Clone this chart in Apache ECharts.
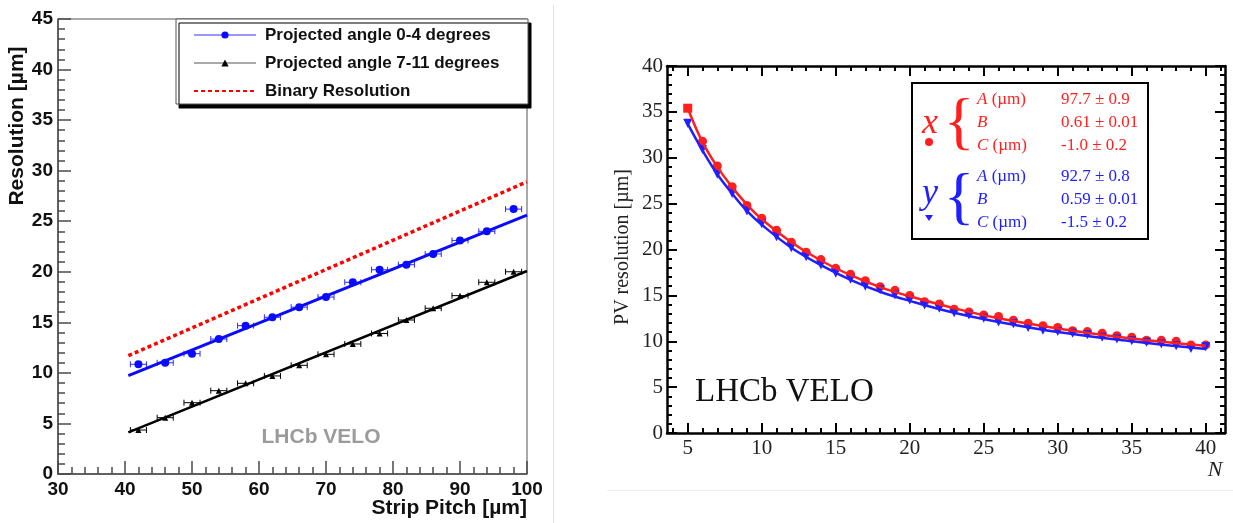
<!DOCTYPE html>
<html>
<head>
<meta charset="utf-8">
<script src="https://cdn.jsdelivr.net/npm/echarts@6.0.0/dist/echarts.min.js"></script>
<style>
	html, body { margin: 0; padding: 0; background: #fff; }
	#chart { width: 1233px; height: 523px; }
</style>
</head>
<body>
<div id="chart"></div>
<script>
	// left panel: resolution vs strip pitch
	var pitch = [42, 46, 50, 54, 58, 62, 66, 70, 74, 78, 82, 86, 90, 94, 98];
	var blueRes = [10.85, 11.0, 11.9, 13.35, 14.67, 15.5, 16.5, 17.5, 18.96, 20.2, 20.7, 21.76, 23.1, 24.0, 26.2];
	var blackRes = [4.35, 5.57, 7.05, 8.24, 8.97, 9.7, 10.75, 11.84, 12.86, 13.9, 15.23, 16.39, 17.64, 18.96, 20.0];
	var pitchErr = 1.2;
	var fitPitch = [40.5, 100];
	var blueFit = [9.72, 25.6];
	var blackFit = [4.12, 20.08];
	var binaryRes = [11.7, 28.9];

	// right panel: PV resolution vs N
	var nVals = [5, 6, 7, 8, 9, 10, 11, 12, 13, 14, 15, 16, 17, 18, 19, 20, 21, 22, 23, 24, 25, 26, 27, 28, 29, 30, 31, 32, 33, 34, 35, 36, 37, 38, 39, 40];
	var xRes = [35.4, 31.8, 29.1, 26.85, 24.8, 23.4, 22.1, 20.8, 19.7, 18.9, 17.95, 17.3, 16.6, 15.95, 15.55, 15.0, 14.3, 14.06, 13.5, 13.2, 12.86, 12.7, 12.3, 11.95, 11.7, 11.5, 11.15, 11.05, 10.87, 10.6, 10.43, 10.1, 10.1, 10.0, 9.6, 9.6];
	var yRes = [33.75, 30.9, 28.2, 26.1, 24.2, 22.8, 21.4, 20.2, 19.2, 18.3, 17.4, 16.75, 16.0, 15.6, 15.04, 14.5, 13.95, 13.6, 13.1, 12.86, 12.5, 12.1, 11.9, 11.5, 11.2, 11.05, 10.87, 10.7, 10.43, 10.25, 10.06, 9.9, 9.7, 9.5, 9.2, 9.4];
	var fitN = [5, 6, 7, 8, 9, 10, 12, 14, 16, 18, 20, 23, 26, 30, 35, 40];
	var xFit = [35.4, 31.7, 29.0, 26.8, 24.9, 23.3, 20.8, 18.8, 17.2, 15.9, 14.9, 13.6, 12.5, 11.4, 10.3, 9.5];
	var yFit = [33.7, 30.8, 28.2, 26.1, 24.2, 22.7, 20.2, 18.3, 16.7, 15.4, 14.4, 13.1, 12.1, 11.0, 10.0, 9.15];
	var majorN = [5, 10, 15, 20, 25, 30, 35, 40];
	var minorN = [4, 5, 6, 7, 8, 9, 10, 11, 12, 13, 14, 15, 16, 17, 18, 19, 20, 21, 22, 23, 24, 25, 26, 27, 28, 29, 30, 31, 32, 33, 34, 35, 36, 37, 38, 39, 40, 41];
	var fitX = ['A (\u00b5m)', 'B', 'C (\u00b5m)'];
	var fitXVal = ['97.7 \u00b1 0.9', '0.61 \u00b1 0.01', '-1.0 \u00b1 0.2'];
	var fitYVal = ['92.7 \u00b1 0.8', '0.59 \u00b1 0.01', '-1.5 \u00b1 0.2'];

	var SANS = 'Liberation Sans, Arial, sans-serif';
	var SERIF = 'Liberation Serif, Times New Roman, serif';
	var RED = '#ff1f1f';
	var BLUE = '#2020ff';

	function pairs(xs, ys) {
		return xs.map(function (x, i) { return [x, ys[i]]; });
	}

	function errBars(color) {
		return function (params, api) {
			var x = api.value(0), y = api.value(1);
			var a = api.coord([x - pitchErr, y]);
			var b = api.coord([x + pitchErr, y]);
			var st = { stroke: color, lineWidth: 1 };
			return {
				type: 'group',
				children: [
					{ type: 'line', shape: { x1: a[0], y1: a[1], x2: b[0], y2: b[1] }, style: st },
					{ type: 'line', shape: { x1: a[0], y1: a[1] - 3, x2: a[0], y2: a[1] + 3 }, style: st },
					{ type: 'line', shape: { x1: b[0], y1: b[1] - 3, x2: b[0], y2: b[1] + 3 }, style: st }
				]
			};
		};
	}

	var leftAxisStyle = { color: '#4a4a4a', width: 1.5 };

	function legendRows(vals, color, y0) {
		var out = [];
		for (var i = 0; i < 3; i++) {
			var lab = fitX[i].split(' ');
			out.push({
				type: 'text', x: 977, y: y0 + i * 23,
				style: {
					text: '{i|' + lab[0] + '}' + (lab[1] ? ' ' + lab[1] : ''),
					rich: { i: { fontStyle: 'italic', fontFamily: SERIF, fontSize: 17, fill: color } },
					font: '17px ' + SERIF, fill: color, verticalAlign: 'middle', align: 'left'
				}
			});
			out.push({
				type: 'text', x: 1061, y: y0 + i * 23,
				style: { text: vals[i], font: '17px ' + SERIF, fill: color, verticalAlign: 'middle', align: 'left' }
			});
		}
		return out;
	}

	var boxItems = [
		{ type: 'text', x: 930, y: 124, style: { text: 'x', font: 'italic 36px ' + SERIF, fill: RED, align: 'center', verticalAlign: 'middle' } },
		{ type: 'circle', shape: { cx: 929, cy: 142, r: 4 }, style: { fill: RED } },
		{ type: 'text', x: 959, y: 125, style: { text: '{', font: '64px ' + SERIF, fill: RED, align: 'center', verticalAlign: 'middle' } },
		{ type: 'text', x: 930, y: 194, style: { text: 'y', font: 'italic 36px ' + SERIF, fill: BLUE, align: 'center', verticalAlign: 'middle' } },
		{ type: 'polygon', shape: { points: [[925, 215], [933, 215], [929, 221]] }, style: { fill: BLUE } },
		{ type: 'text', x: 959, y: 200, style: { text: '{', font: '64px ' + SERIF, fill: BLUE, align: 'center', verticalAlign: 'middle' } }
	].concat(legendRows(fitXVal, RED, 100)).concat(legendRows(fitYVal, BLUE, 177));
	boxItems.forEach(function (el) { el.z = 10; });

	var chart = echarts.init(document.getElementById('chart'));

	var option = {
		backgroundColor: '#fff',
		animation: false,
		grid: [{
				left: 58, top: 19, width: 469, height: 455,
				show: true, borderColor: '#555', borderWidth: 1
			},
			{
				left: 667, top: 66, width: 558, height: 367
			}
		],
		legend: {
			z: 10,
			orient: 'vertical',
			left: 188,
			top: 20,
			itemWidth: 62,
			itemHeight: 9,
			itemGap: 8,
			textStyle: {
				fontFamily: SANS, fontWeight: 'bold', fontSize: 17, color: '#111',
				lineHeight: 20, padding: [0, 0, 0, 4]
			},
			data: [{
					name: 'Projected angle 0-4 degrees',
					lineStyle: { opacity: 1, width: 1.2, color: '#3030ff' }
				},
				{
					name: 'Projected angle 7-11 degrees',
					lineStyle: { opacity: 1, width: 1.2, color: '#555' }
				},
				{
					name: 'Binary Resolution',
					itemStyle: { opacity: 0 }
				}
			]
		},
		xAxis: [{
				gridIndex: 0, type: 'value', min: 30, max: 100, interval: 10,
				axisLine: { lineStyle: leftAxisStyle },
				axisTick: { inside: true, length: 13, lineStyle: leftAxisStyle },
				minorTick: { show: true, splitNumber: 5, length: 7, lineStyle: leftAxisStyle },
				axisLabel: { fontFamily: SANS, fontWeight: 'bold', fontSize: 19, color: '#111', margin: 6 },
				splitLine: { show: false }
			},
			{
				gridIndex: 1, type: 'value', position: 'bottom', min: 3.6, max: 41.3,
				axisLine: { lineStyle: { color: '#000', width: 2.5 } },
				axisTick: { inside: true, length: 10, customValues: majorN, lineStyle: { color: '#000', width: 2 } },
				axisLabel: { customValues: majorN, fontFamily: SERIF, fontSize: 21, color: '#222', margin: 5 },
				splitLine: { show: false }
			},
			{
				gridIndex: 1, type: 'value', position: 'bottom', min: 3.6, max: 41.3,
				axisLine: { show: false },
				axisTick: { inside: true, length: 5, customValues: minorN, lineStyle: { color: '#000', width: 2 } },
				axisLabel: { show: false },
				splitLine: { show: false }
			},
			{
				gridIndex: 1, type: 'value', position: 'top', min: 3.6, max: 41.3,
				axisLine: { lineStyle: { color: '#000', width: 2.5 } },
				axisTick: { inside: true, length: 10, customValues: majorN, lineStyle: { color: '#000', width: 2 } },
				axisLabel: { show: false },
				splitLine: { show: false }
			},
			{
				gridIndex: 1, type: 'value', position: 'top', min: 3.6, max: 41.3,
				axisLine: { show: false },
				axisTick: { inside: true, length: 5, customValues: minorN, lineStyle: { color: '#000', width: 2 } },
				axisLabel: { show: false },
				splitLine: { show: false }
			}
		],
		yAxis: [{
				gridIndex: 0, type: 'value', min: 0, max: 45, interval: 5,
				axisLine: { lineStyle: leftAxisStyle },
				axisTick: { inside: true, length: 13, lineStyle: leftAxisStyle },
				minorTick: { show: true, splitNumber: 5, length: 7, lineStyle: leftAxisStyle },
				axisLabel: { fontFamily: SANS, fontWeight: 'bold', fontSize: 19, color: '#111', margin: 5 },
				splitLine: { show: false }
			},
			{
				gridIndex: 1, type: 'value', position: 'left', min: 0, max: 40, interval: 5,
				axisLine: { lineStyle: { color: '#000', width: 2.5 } },
				axisTick: { inside: true, length: 10, lineStyle: { color: '#000', width: 2 } },
				minorTick: { show: true, splitNumber: 5, length: 5, lineStyle: { color: '#000', width: 2 } },
				axisLabel: { fontFamily: SERIF, fontSize: 21, color: '#222', margin: 4 },
				splitLine: { show: false }
			},
			{
				gridIndex: 1, type: 'value', position: 'right', min: 0, max: 40, interval: 5,
				axisLine: { lineStyle: { color: '#000', width: 2.5 } },
				axisTick: { inside: true, length: 10, lineStyle: { color: '#000', width: 2 } },
				minorTick: { show: true, splitNumber: 5, length: 5, lineStyle: { color: '#000', width: 2 } },
				axisLabel: { show: false },
				splitLine: { show: false }
			}
		],
		series: [
			// left panel
			{
				name: 'Binary Resolution', type: 'line', xAxisIndex: 0, yAxisIndex: 0,
				data: pairs(fitPitch, binaryRes), symbol: 'none',
				lineStyle: { color: '#ff0000', width: 3.5, type: [4, 3] }, itemStyle: { color: '#ff0000' }
			},
			{
				name: 'blue fit', type: 'line', xAxisIndex: 0, yAxisIndex: 0,
				data: pairs(fitPitch, blueFit), symbol: 'none',
				lineStyle: { color: '#0a0aff', width: 3 }
			},
			{
				name: 'black fit', type: 'line', xAxisIndex: 0, yAxisIndex: 0,
				data: pairs(fitPitch, blackFit), symbol: 'none',
				lineStyle: { color: '#000', width: 2.5 }
			},
			{
				name: 'blue err', type: 'custom', xAxisIndex: 0, yAxisIndex: 0,
				data: pairs(pitch, blueRes), renderItem: errBars('#2a2aff')
			},
			{
				name: 'black err', type: 'custom', xAxisIndex: 0, yAxisIndex: 0,
				data: pairs(pitch, blackRes), renderItem: errBars('#000')
			},
			{
				name: 'Projected angle 0-4 degrees', type: 'line', xAxisIndex: 0, yAxisIndex: 0,
				data: pairs(pitch, blueRes), symbol: 'circle', symbolSize: 8,
				itemStyle: { color: '#0a0aff' }, lineStyle: { opacity: 0, color: '#0a0aff' }
			},
			{
				name: 'Projected angle 7-11 degrees', type: 'line', xAxisIndex: 0, yAxisIndex: 0,
				data: pairs(pitch, blackRes), symbol: 'triangle', symbolSize: 6,
				itemStyle: { color: '#000' }, lineStyle: { opacity: 0, color: '#000' }
			},
			// right panel
			{
				name: 'y fit', type: 'line', xAxisIndex: 1, yAxisIndex: 1,
				data: pairs(fitN, yFit), symbol: 'none', smooth: 0.4,
				lineStyle: { color: BLUE, width: 2.5 }
			},
			{
				name: 'x fit', type: 'line', xAxisIndex: 1, yAxisIndex: 1,
				data: pairs(fitN, xFit), symbol: 'none', smooth: 0.4,
				lineStyle: { color: RED, width: 2.5 }
			},
			{
				name: 'x', type: 'scatter', xAxisIndex: 1, yAxisIndex: 1,
				data: nVals.map(function (n, i) {
					return i === 0 ? { value: [n, xRes[i]], symbol: 'rect' } : [n, xRes[i]];
				}),
				symbol: 'circle', symbolSize: 9, itemStyle: { color: RED, opacity: 1 }
			},
			{
				name: 'y', type: 'scatter', xAxisIndex: 1, yAxisIndex: 1,
				data: pairs(nVals, yRes), symbol: 'triangle', symbolRotate: 180, symbolSize: 9,
				itemStyle: { color: BLUE, opacity: 1 }
			}
		],
		graphic: [
			// page separators
			{ type: 'line', shape: { x1: 553.5, y1: 5, x2: 553.5, y2: 523 }, style: { stroke: '#e2e2e2', lineWidth: 1 } },
			{ type: 'line', shape: { x1: 607, y1: 490.5, x2: 1233, y2: 490.5 }, style: { stroke: '#ececec', lineWidth: 1 } },
			// left legend box
			{
				type: 'rect', z: 5,
				shape: { x: 176, y: 19, width: 352, height: 85 },
				style: { fill: '#fff', stroke: '#555', lineWidth: 1, shadowColor: '#000', shadowOffsetX: 3, shadowOffsetY: 4, shadowBlur: 0 }
			},
			// left axis titles
			{
				type: 'text', x: 17, y: 126, rotation: Math.PI / 2,
				style: { text: 'Resolution [\u00b5m]', font: 'bold 21px ' + SANS, fill: '#111', align: 'center', verticalAlign: 'middle' }
			},
			{
				type: 'text', x: 527, y: 508,
				style: { text: 'Strip Pitch [\u00b5m]', font: 'bold 21px ' + SANS, fill: '#111', align: 'right', verticalAlign: 'middle' }
			},
			{
				type: 'text', x: 321, y: 437,
				style: { text: 'LHCb VELO', font: 'bold 21px ' + SANS, fill: '#9b9b9b', align: 'center', verticalAlign: 'middle' }
			},
			// right axis titles
			{
				type: 'text', x: 623, y: 247, rotation: Math.PI / 2,
				style: { text: 'PV resolution [\u00b5m]', font: '20px ' + SERIF, fill: '#222', align: 'center', verticalAlign: 'middle' }
			},
			{
				type: 'text', x: 1215, y: 470,
				style: { text: 'N', font: 'italic 22px ' + SERIF, fill: '#222', align: 'center', verticalAlign: 'middle' }
			},
			{
				type: 'text', x: 695, y: 392,
				style: { text: 'LHCb VELO', font: '33px ' + SERIF, fill: '#111', align: 'left', verticalAlign: 'middle' }
			},
			// right fit-parameter box
			{
				type: 'rect', z: 5,
				shape: { x: 912, y: 83, width: 236, height: 156 },
				style: { fill: '#fff', stroke: '#000', lineWidth: 2 }
			}
		].concat(boxItems)
	};

	chart.setOption(option);
</script>
</body>
</html>
